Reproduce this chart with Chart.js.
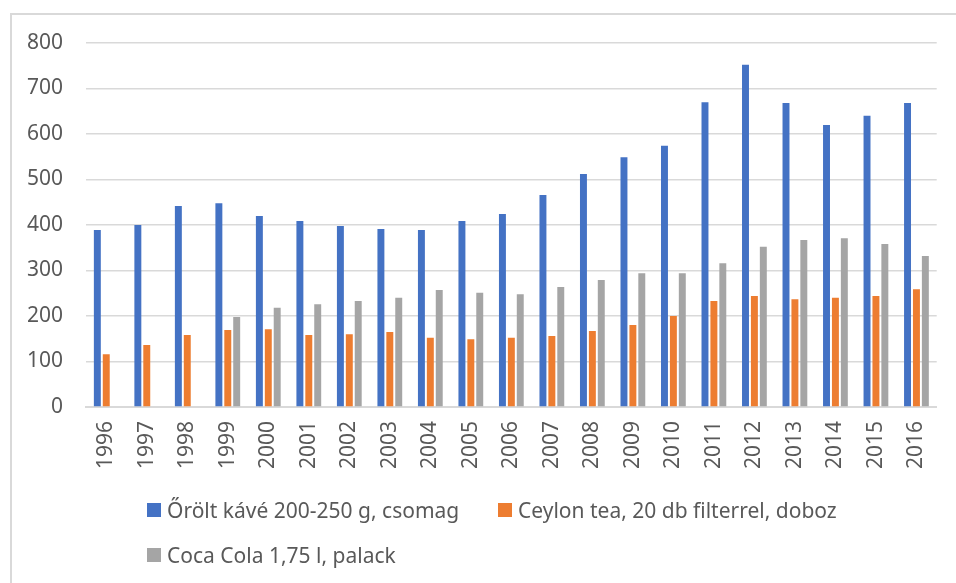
<!DOCTYPE html>
<html>
<head>
<meta charset="utf-8">
<script src="https://cdn.jsdelivr.net/npm/chart.js@4/dist/chart.umd.min.js"></script>
<style>
    html, body { margin: 0; padding: 0; background: #fff; }
    body { width: 956px; height: 583px; position: relative; overflow: hidden; font-family: "Noto Sans", sans-serif; }
    #frame { position: absolute; left: 10px; top: 13px; width: 960px; height: 600px; border: 2px solid #d9d9d9; box-sizing: border-box; }
    #wrap { position: absolute; left: 0; top: 0; width: 956px; height: 480px; }
    #legend { position: absolute; left: 0; top: 0; width: 956px; height: 583px; pointer-events: none; }
    .item { position: absolute; display: flex; align-items: center; color: #595959; font-size: 21px; white-space: nowrap; }
    .swatch { width: 14px; height: 14px; margin-right: 6px; }
</style>
</head>
<body>
<div id="frame"></div>
<div id="wrap"><canvas id="chart"></canvas></div>
<div id="legend"></div>
<script>
const years = ['1996', '1997', '1998', '1999', '2000', '2001', '2002', '2003', '2004', '2005', '2006',
    '2007', '2008', '2009', '2010', '2011', '2012', '2013', '2014', '2015', '2016'];

const coffee = [389, 400, 442, 448, 420, 409, 398, 391, 389, 409, 424,
    466, 512, 549, 574, 670, 752, 668, 620, 640, 668];
const tea = [116, 136, 158, 169, 171, 158, 160, 165, 152, 149, 152,
    156, 167, 180, 200, 233, 244, 237, 240, 244, 259];
const cola = [null, null, null, 198, 218, 226, 233, 240, 257, 251, 248,
    264, 279, 294, 294, 316, 352, 367, 371, 358, 332];

const seriesNames = ['Őrölt kávé 200-250 g, csomag', 'Ceylon tea, 20 db filterrel, doboz', 'Coca Cola 1,75 l, palack'];
const seriesColors = ['#4472C4', '#ED7D31', '#A5A5A5'];

// where each legend entry sits (Excel lays them out left-aligned in two rows)
const legendSpots = [[147, 511], [498, 511], [147, 556]];

const textColor = '#595959';
const gridColor = '#d9d9d9';
Chart.defaults.font.family = '"Noto Sans", sans-serif';
Chart.defaults.color = textColor;

const ctx = document.getElementById('chart').getContext('2d');
const chart = new Chart(ctx, {
    type: 'bar',
    data: {
        labels: years,
        datasets: [coffee, tea, cola].map((d, i) => ({
            label: seriesNames[i],
            data: d,
            backgroundColor: seriesColors[i],
            borderWidth: 0,
            barPercentage: 0.78,
            categoryPercentage: 0.66
        }))
    },
    options: {
        responsive: true,
        maintainAspectRatio: false,
        animation: false,
        layout: { padding: { left: 0, right: 15, top: 43, bottom: 0 } },
        plugins: {
            legend: { display: false },
            tooltip: { enabled: false }
        },
        scales: {
            x: {
                grid: { display: false, drawTicks: false },
                border: { display: true, color: gridColor, width: 2 },
                ticks: {
                    autoSkip: false,
                    maxRotation: 90,
                    minRotation: 90,
                    padding: 14,
                    font: { size: 21 },
                    color: textColor
                },
                afterFit: (scale) => { scale.height = 73; }
            },
            y: {
                min: 0,
                max: 800,
                ticks: { stepSize: 100, padding: 23, font: { size: 21 }, color: textColor },
                grid: { color: gridColor, lineWidth: 1.5, drawTicks: false },
                border: { display: false },
                afterFit: (scale) => { scale.width = 86; }
            }
        }
    }
});

// legend built from the chart's own datasets
const legendBox = document.getElementById('legend');
chart.data.datasets.forEach((ds, i) => {
    const item = document.createElement('div');
    item.className = 'item';
    item.style.left = legendSpots[i][0] + 'px';
    item.style.top = (legendSpots[i][1] - 15) + 'px';
    const sw = document.createElement('span');
    sw.className = 'swatch';
    sw.style.background = ds.backgroundColor;
    const txt = document.createElement('span');
    txt.textContent = ds.label;
    item.appendChild(sw);
    item.appendChild(txt);
    legendBox.appendChild(item);
});
</script>
</body>
</html>
